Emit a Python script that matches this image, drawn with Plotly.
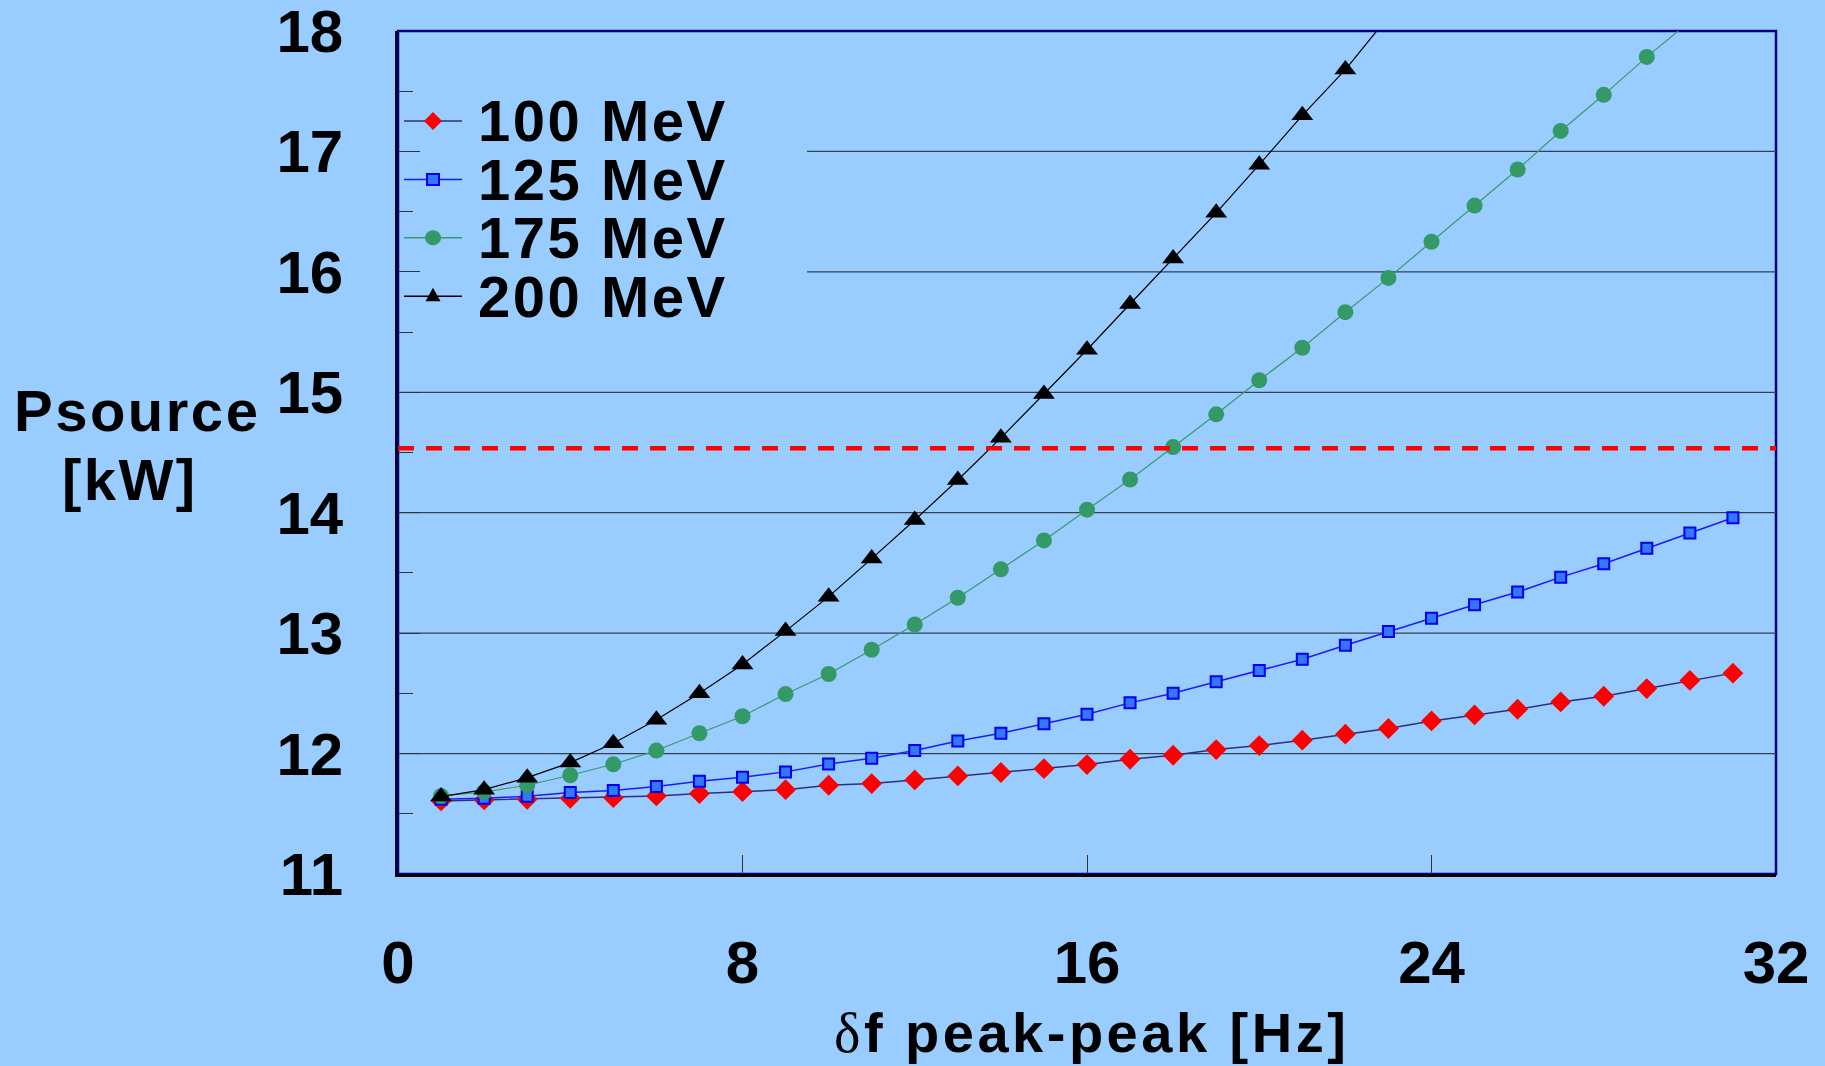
import plotly.graph_objects as go

# Peak-to-peak frequency deviation, Hz
df_hz = list(range(1, 32))

# Source power (kW) versus deviation, one curve per beam energy
p_100mev = [11.607, 11.615, 11.620, 11.629, 11.634, 11.648, 11.668, 11.684, 11.700, 11.737,
            11.751, 11.781, 11.814, 11.843, 11.875, 11.909, 11.953, 11.986, 12.033, 12.066,
            12.111, 12.161, 12.208, 12.271, 12.321, 12.368, 12.429, 12.476, 12.540, 12.607,
            12.668]
p_125mev = [11.620, 11.629, 11.645, 11.676, 11.693, 11.726, 11.770, 11.803, 11.848, 11.914,
            11.961, 12.025, 12.105, 12.169, 12.247, 12.327, 12.421, 12.501, 12.596, 12.690,
            12.784, 12.900, 13.013, 13.124, 13.235, 13.341, 13.465, 13.576, 13.704, 13.831,
            13.958]
p_175mev = [11.648, 11.681, 11.737, 11.820, 11.911, 12.025, 12.169, 12.310, 12.494, 12.661,
            12.862, 13.072, 13.294, 13.530, 13.770, 14.025, 14.276, 14.545, 14.817, 15.100,
            15.370, 15.665, 15.950, 16.250, 16.550, 16.850, 17.170, 17.470, 17.785, 18.080]
p_200mev = [11.643, 11.700, 11.800, 11.925, 12.086, 12.280, 12.500, 12.740, 13.017, 13.303,
            13.619, 13.939, 14.272, 14.622, 14.986, 15.353, 15.733, 16.110, 16.490, 16.890,
            17.300, 17.680, 18.120]

series_names = ["100 MeV", "125 MeV", "175 MeV", "200 MeV"]
series_values = [p_100mev, p_125mev, p_175mev, p_200mev]

# Available source power
psource_limit = 14.535

x_ticks = [0, 8, 16, 24, 32]
y_ticks = [11, 12, 13, 14, 15, 16, 17, 18]
grid_levels = [12, 13, 14, 15, 16, 17]

x_title = "δf peak-peak [Hz]"
y_title_lines = ["Psource", "[kW]"]

# ---------------------------------------------------------------- styling
W, H = 1825, 1066
ML, MR, MT, MB = 398, 49, 31, 192
PW, PH = W - ML - MR, H - MT - MB
BG = "#99CCFF"
FONT = "Liberation Sans, Arial, Helvetica, sans-serif"

styles = [
    dict(line="#2e2e80", lw=1.5, symbol="diamond", size=16, fill="#FF0000", edge="#FF0000", ew=0),
    dict(line="#1a1aff", lw=1.5, symbol="square", size=11, fill="#3377FF", edge="#0000EE", ew=2),
    dict(line="#3a9a6a", lw=1.2, symbol="circle", size=16, fill="#339966", edge="#339966", ew=0),
    dict(line="#000000", lw=1.2, symbol="triangle-up", size=19, fill="#000000", edge="#000000", ew=0),
]


def px_x(px):
    return (px - ML) / PW


def px_y(py):
    return (MT + PH - py) / PH


def spaced(text, px):
    return f'<span style="letter-spacing:{px}px">{text}</span>'


def bold_font(size):
    return dict(family=FONT, size=size, color="black", weight="bold")


fig = go.Figure()

for name, vals, st in zip(series_names, series_values, styles):
    fig.add_trace(go.Scatter(
        x=df_hz[:len(vals)], y=vals, name=name, mode="lines+markers",
        line=dict(color=st["line"], width=st["lw"]),
        marker=dict(symbol=st["symbol"], size=st["size"], color=st["fill"],
                    line=dict(color=st["edge"], width=st["ew"])),
        showlegend=False,
    ))

shapes = []
# frame around the plotting area
shapes.append(dict(type="rect", xref="paper", yref="paper", x0=0, x1=1, y0=0, y1=1,
                   line=dict(color="#000080", width=2.5), layer="below"))

# horizontal grid; the key box in the top-left corner hides the upper lines
legend_right, legend_bottom = 9.5, 15.5
for g in grid_levels:
    x0 = legend_right if g > legend_bottom else 0
    shapes.append(dict(type="line", xref="x", yref="y", x0=x0, x1=32, y0=g, y1=g,
                       line=dict(color="#33414f", width=1.3), layer="below"))

# power limit
shapes.append(dict(type="line", xref="paper", yref="y", x0=0, x1=1,
                   y0=psource_limit, y1=psource_limit,
                   line=dict(color="#FF0000", width=4.5, dash="16px,12px"), layer="above"))

# key: sample line, sample marker, label
row0, row_step = 121.0, 58.4
sym_x0, sym_x1, sym_xc, text_x = 404, 462, 433, 476
marker_shapes = {
    "diamond": dict(type="path", path="M-9,0 L0,9 L9,0 L0,-9 Z"),
    "square": dict(type="rect", x0=-6, x1=6, y0=-5.5, y1=5.5),
    "circle": dict(type="circle", x0=-8, x1=8, y0=-7.5, y1=7.5),
    "triangle-up": dict(type="path", path="M-7.5,-5 L7.5,-5 L0,8.5 Z"),
}
annotations = []
for i, (name, st) in enumerate(zip(series_names, styles)):
    yc = row0 + i * row_step
    shapes.append(dict(type="line", xref="paper", yref="paper",
                       x0=px_x(sym_x0), x1=px_x(sym_x1), y0=px_y(yc), y1=px_y(yc),
                       line=dict(color=st["line"], width=1.5), layer="above"))
    m = dict(marker_shapes[st["symbol"]])
    m.update(xref="paper", yref="paper", xsizemode="pixel", ysizemode="pixel",
             xanchor=px_x(sym_xc), yanchor=px_y(yc), fillcolor=st["fill"],
             line=dict(color=st["edge"], width=st["ew"]), layer="above")
    shapes.append(m)
    annotations.append(dict(text=spaced(name, 2.5), xref="paper", yref="paper",
                            x=px_x(text_x), y=px_y(yc), xanchor="left", yanchor="middle",
                            showarrow=False, font=bold_font(58)))

# vertical-axis caption, written horizontally on two lines
for txt, (cx, cy) in zip(y_title_lines, ((137, 410), (130, 479))):
    annotations.append(dict(text=spaced(txt, 2.5), xref="paper", yref="paper",
                            x=px_x(cx), y=px_y(cy), xanchor="center", yanchor="middle",
                            showarrow=False, font=bold_font(58)))

# horizontal-axis caption
annotations.append(dict(
    text=spaced('<span style="font-family:Liberation Serif;font-weight:normal">δ</span>'
                + x_title[1:], 3.5),
    xref="paper", yref="paper", x=px_x(1091), y=px_y(1032),
    xanchor="center", yanchor="middle", showarrow=False, font=bold_font(56)))

fig.update_layout(
    width=W, height=H,
    margin=dict(l=ML, r=MR, t=MT, b=MB, autoexpand=False),
    paper_bgcolor=BG, plot_bgcolor=BG,
    font=dict(family=FONT, color="black"),
    shapes=shapes, annotations=annotations,
    showlegend=False,
)

fig.update_xaxes(
    range=[0, 32], tickvals=x_ticks, ticktext=[str(t) for t in x_ticks],
    ticks="inside", ticklen=19, tickwidth=1.2, tickcolor="#333333",
    showgrid=False, zeroline=False,
    showline=True, linecolor="#000000", linewidth=2.5,
    tickfont=bold_font(60), ticklabelstandoff=34, ticklabeloverflow="allow",
)
fig.update_yaxes(
    range=[11, 18], tickvals=y_ticks, ticktext=[str(t) for t in y_ticks],
    ticks="inside", ticklen=22, tickwidth=1.2, tickcolor="#333333",
    minor=dict(ticks="inside", ticklen=15, dtick=0.5, tickcolor="#333333", tickwidth=1.2,
               showgrid=False),
    showgrid=False, zeroline=False,
    showline=True, linecolor="#000033", linewidth=2.5,
    tickfont=bold_font(60), ticklabelstandoff=40, ticklabeloverflow="allow",
)

fig.write_html("out.html")
